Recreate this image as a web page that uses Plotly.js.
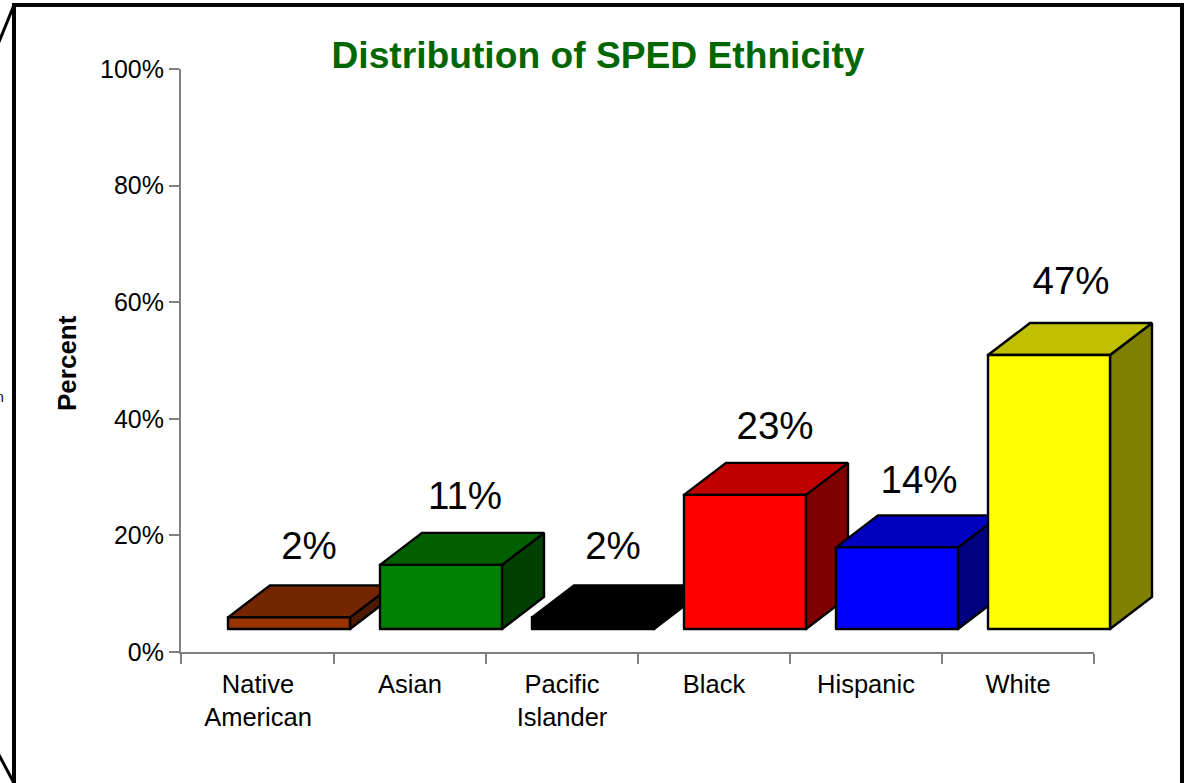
<!DOCTYPE html>
<html>
<head>
<meta charset="utf-8">
<script src="https://cdn.plot.ly/plotly-3.0.1.min.js"></script>
<style>
html,body{margin:0;padding:0;background:#fff;overflow:hidden}
#chart path.js-line{stroke-linejoin:miter !important;stroke-miterlimit:2 !important;stroke-linecap:round !important}
</style>
</head>
<body>
<div id="chart" style="width:1184px;height:783px"></div>
<script>
var categories = ['Native<br>American', 'Asian', 'Pacific<br>Islander', 'Black', 'Hispanic', 'White'];
var values = [2, 11, 2, 23, 14, 47];
var labels = ['2%', '11%', '2%', '23%', '14%', '47%'];
var frontColors = ['#993300', '#008000', '#000000', '#FF0000', '#0000FF', '#FFFF00'];
var topColors = ['#732600', '#006000', '#000000', '#C00000', '#0000C0', '#C0C000'];
var sideColors = ['#4D1A00', '#004000', '#000000', '#800000', '#000080', '#808000'];
var yTicks = [0, 20, 40, 60, 80, 100];
var labelShiftX = [-1, 3, -1, 9, 1, 1];
var labelShiftUp = [35.5, 33.5, 35.5, 33.5, 32.5, 38.5];

var FONT = '"Liberation Sans", Arial, sans-serif';
var W = 1184, H = 783, L = 181, R = 16, T = 69, B = 131;
var plotW = W - L - R, plotH = H - T - B;
var UNIT = 152, PCT = plotH / 100, START = 1 / UNIT;
var INSET = 46 / UNIT, BARW = 122 / UNIT, DX = 42 / UNIT;
var FLOOR = 23 / PCT, DY = 32 / PCT;

var traces = [{x: [0], y: [0], xaxis: 'x', yaxis: 'y', mode: 'none', hoverinfo: 'skip', showlegend: false}];
function poly(xs, ys, color) {
  traces.push({
    x: xs.concat(xs[0]), y: ys.concat(ys[0]), xaxis: 'x2', yaxis: 'y', mode: 'lines', fill: 'toself',
    fillcolor: color, line: {color: '#000000', width: 2.4}, cliponaxis: false,
    hoverinfo: 'skip', showlegend: false
  });
}
values.forEach(function (v, i) {
  var x0 = i + INSET, x1 = x0 + BARW, y0 = FLOOR, y1 = FLOOR + v;
  poly([x1, x1 + DX, x1 + DX, x1], [y0, y0 + DY, y1 + DY, y1], sideColors[i]);
  poly([x0, x1, x1 + DX, x0 + DX], [y1, y1, y1 + DY, y1 + DY], topColors[i]);
  poly([x0, x1, x1, x0], [y0, y0, y1, y1], frontColors[i]);
});
traces.push({
  x: values.map(function (v, i) { return i + INSET + BARW / 2 + DX / 2 + labelShiftX[i] / UNIT; }),
  y: values.map(function (v, i) { return FLOOR + v + DY + labelShiftUp[i] / PCT; }),
  xaxis: 'x2', yaxis: 'y',
  text: labels, mode: 'text', textposition: 'middle center',
  textfont: {family: FONT, size: 38.5, color: '#000000'},
  cliponaxis: false, hoverinfo: 'skip', showlegend: false
});
traces.push({x: [0], y: [0], xaxis: 'x', yaxis: 'y2', mode: 'none', hoverinfo: 'skip', showlegend: false});

function px(x) { return (x - L) / plotW; }
function py(y) { return (H - B - y) / plotH; }
function seg(x0, y0, x1, y1, w) {
  return {type: 'line', xref: 'paper', yref: 'paper', x0: px(x0), y0: py(y0), x1: px(x1), y1: py(y1),
          line: {color: '#000000', width: w}};
}

var layout = {
  width: W, height: H, autosize: false,
  margin: {l: L, r: R, t: T, b: B, pad: 0},
  paper_bgcolor: '#ffffff', plot_bgcolor: '#ffffff',
  showlegend: false,
  font: {family: FONT, color: '#000000', size: 25},
  title: {
    text: '<b>Distribution of SPED Ethnicity</b>',
    x: 598 / W, xanchor: 'center', xref: 'container',
    y: 1 - 55 / H, yanchor: 'middle', yref: 'container',
    font: {family: FONT, size: 37.2, color: '#006600'}
  },
  xaxis: {
    domain: [0, (1094 - L) / plotW], anchor: 'y',
    range: [-START, 6], fixedrange: true, showgrid: false, zeroline: false,
    showline: true, linecolor: '#808080', linewidth: 2,
    tickmode: 'array',
    tickvals: categories.map(function (c, i) { return i + 0.5; }),
    ticktext: categories, ticks: '', ticklen: 0,
    tickfont: {family: FONT, size: 25.5, color: '#000000'},
    ticklabelstandoff: 8,
    minor: {
      tickmode: 'array', tickvals: [-START, 1, 2, 3, 4, 5, 6],
      ticks: 'outside', ticklen: 10, tickwidth: 2, tickcolor: '#808080', showgrid: false
    }
  },
  xaxis2: {
    domain: [0, 1], anchor: 'y', visible: false, fixedrange: true,
    range: [-START, plotW / UNIT - START]
  },
  yaxis: {
    anchor: 'x',
    range: [0, 100], fixedrange: true, showgrid: false, zeroline: false,
    showline: true, linecolor: '#808080', linewidth: 2,
    tickmode: 'array', tickvals: yTicks, ticktext: yTicks.map(function (t) { return t + '%'; }),
    ticks: 'outside', ticklen: 10, tickwidth: 2, tickcolor: '#808080',
    tickfont: {family: FONT, size: 25, color: '#000000'}
  },
  yaxis2: {
    range: [0, 100], overlaying: 'y', anchor: 'x', side: 'left', fixedrange: true,
    showgrid: false, zeroline: false, showline: false, showticklabels: false,
    tickmode: 'array', tickvals: yTicks,
    ticks: 'inside', ticklen: 10, tickwidth: 2, tickcolor: '#808080'
  },
  shapes: [
    seg(14, 783, 14, 5, 4),
    seg(12, 5, 1182, 5, 4),
    seg(1182, 3, 1182, 783, 4),
    seg(14, 5, -1, 42, 3),
    seg(-1, 755, 15, 785, 3)
  ],
  annotations: [
    {
      text: '<b>Percent</b>', xref: 'paper', yref: 'paper', x: px(67), y: py(363),
      xanchor: 'center', yanchor: 'middle', textangle: -90, showarrow: false,
      font: {family: FONT, size: 26, color: '#000000'}
    },
    {
      text: 'n', xref: 'paper', yref: 'paper', x: px(6), y: py(397), xanchor: 'right', yanchor: 'middle',
      showarrow: false, font: {family: FONT, size: 14, color: '#000000'}
    }
  ]
};
Plotly.newPlot('chart', traces, layout, {displayModeBar: false, staticPlot: true});
</script>
</body>
</html>
